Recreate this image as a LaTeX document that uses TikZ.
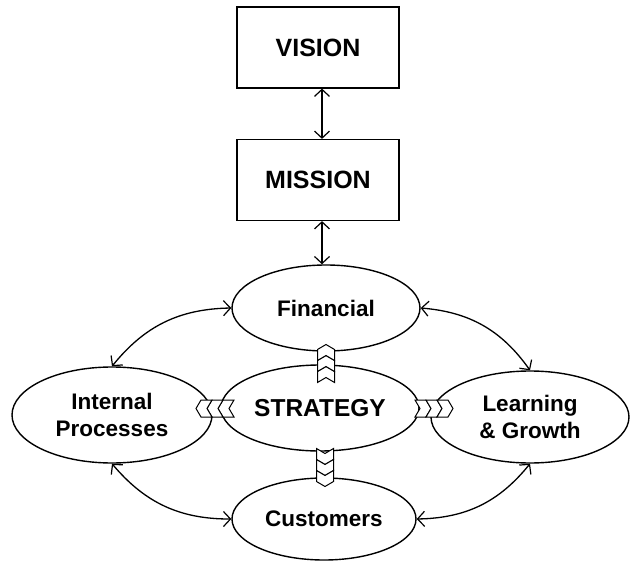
\documentclass[tikz,border=0pt]{standalone}
\usepackage{fontspec}
\setmainfont{Liberation Sans}
\usetikzlibrary{shapes.geometric,arrows.meta}
\begin{document}
\begin{tikzpicture}[x=1pt,y=-1pt,
  box/.style={draw, line width=1.2pt, minimum width=162pt, minimum height=81pt, inner sep=0pt,
    font=\fontsize{25}{30}\selectfont\bfseries},
  oval/.style={draw, ellipse, line width=1.4pt, inner sep=0pt, align=center,
    font=\fontsize{22.5}{27}\selectfont\bfseries},
  tip/.tip={Straight Barb[length=7pt,width=15pt,line width=1.2pt]},
  link/.style={line width=1.3pt, tip-tip},
  chevline/.style={fill=white, draw=black, line width=1pt, line join=miter},
  chev/.pic={
    \foreach \a in {-19,-8,3}{
      \draw[chevline] (\a,-8.5) -- ++(11,0) -- ++(5,8.5) -- ++(-5,8.5) -- ++(-11,0) -- ++(5,-8.5) -- cycle;
    }
  }
]
\useasboundingbox (0,0) rectangle (640,588);

\node[box] (vision) at (318,47.5) {VISION};
\node[box] (mission) at (318,180) {MISSION};
\coordinate (ax) at (322,0);

\node[oval, minimum width=188pt, minimum height=86pt] (fin) at (326,308) {Financial};
\node[oval, minimum width=198pt, minimum height=86pt, font=\fontsize{24.5}{30}\selectfont\bfseries] (str) at (320,408) {STRATEGY};
\node[oval, minimum width=200pt, minimum height=96pt] (ip) at (112,415) {Internal\\Processes};
\node[oval, minimum width=198pt, minimum height=92pt] (lg) at (530,417) {Learning\\\& Growth};
\node[oval, minimum width=184pt, minimum height=82pt] (cus) at (324,519) {Customers};

\draw[link] (vision.south -| ax) -- (mission.north -| ax);
\draw[link] (mission.south -| ax) -- (ax |- fin.north);

\draw[link] (fin.west) to[bend right=25] (ip.north);
\draw[link] (fin.east) to[bend left=25] (lg.north);
\draw[link] (ip.south) to[bend right=25] (cus.west);
\draw[link] (lg.south) to[bend left=25] (cus.east);

\pic[rotate=90] at (326,363.5) {chev};
\pic[rotate=-90] at (325,467.5) {chev};
\pic[rotate=180] at (215,408.5) {chev};
\pic at (434,408.5) {chev};
\end{tikzpicture}
\end{document}
